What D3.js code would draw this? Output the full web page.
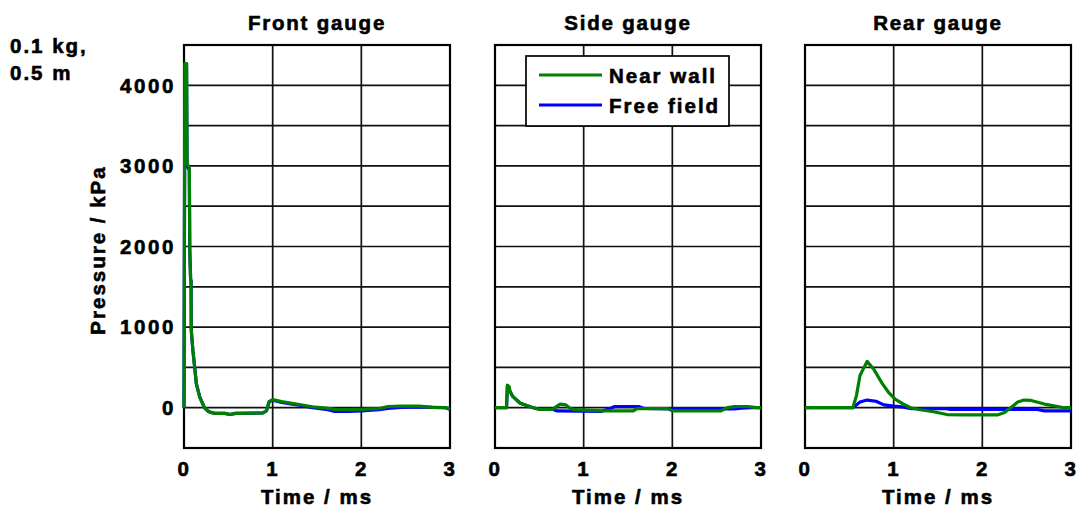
<!DOCTYPE html>
<html><head><meta charset="utf-8">
<script src="https://cdn.jsdelivr.net/npm/d3@7"></script>
<style>
html,body{margin:0;padding:0;background:#fff;}
text{font-family:"Liberation Sans",Arial,sans-serif;font-weight:bold;font-size:20.5px;fill:#000;stroke:#000;stroke-width:0.6px;}
</style></head>
<body><svg id="c" width="1077" height="510"></svg>
<script>
const panelTitles = ["Front gauge","Side gauge","Rear gauge"];
const seriesNames = ["Near wall","Free field"];
const xTicks = [0,1,2,3];
const yTickLabels = [0,1000,2000,3000,4000];
const yGrid = [-500,0,500,1000,1500,2000,2500,3000,3500,4000,4500];

const frontNearT = [0,0.01,0.03,0.035,0.06,0.065,0.075,0.08,0.082,0.1,0.12,0.139,0.176,0.23,0.28,0.345,0.46,0.52,0.58,0.89,0.93,0.96,1.0,1.1,1.22,1.3,1.45,1.6,1.7,1.85,2.0,2.2,2.3,2.45,2.65,2.8,2.95,3.0];
const frontNearP = [0,4270,4270,3030,2980,1950,1580,1580,960,714,507,300,136,0,-50,-70,-70,-85,-70,-65,-40,74,100,75,54,40,12,-5,-20,-25,-20,-10,15,20,20,5,0,-20];
const frontFreeT = [0,0.01,0.028,0.034,0.06,0.065,0.075,0.08,0.082,0.1,0.12,0.139,0.176,0.23,0.28,0.345,0.46,0.52,0.58,0.89,0.93,0.96,1.0,1.1,1.22,1.3,1.45,1.6,1.7,1.85,2.0,2.2,2.3,2.45,2.65,2.8,2.95,3.0];
const frontFreeP = [0,4250,4250,3000,2950,1950,1580,1580,960,714,507,300,136,0,-50,-70,-70,-85,-70,-65,-40,74,92,65,45,30,0,-20,-45,-45,-40,-25,-10,5,10,5,0,-20];

const sideNearT = [0,0.13,0.14,0.16,0.17,0.2,0.25,0.285,0.35,0.43,0.5,0.65,0.7,0.735,0.8,0.85,0.9,1.19,1.56,1.6,1.95,2.0,2.55,2.62,2.7,2.85,2.95,3.0];
const sideNearP = [0,0,280,260,200,140,90,55,30,0,-20,-20,20,45,35,-10,-25,-40,-40,-12,-12,-40,-40,0,15,15,0,0];
const sideFreeT = [0,0.13,0.14,0.17,0.2,0.25,0.285,0.35,0.43,0.5,0.65,0.7,1.2,1.3,1.35,1.62,1.68,2.0,2.7,2.78,2.9,3.0];
const sideFreeP = [0,0,270,200,140,90,55,30,0,-20,-20,-40,-45,-10,15,15,-10,-15,-15,-5,0,0];

const rearNearT = [0,0.54,0.58,0.62,0.7,0.78,0.87,0.95,1.02,1.1,1.19,1.3,1.45,1.6,1.8,2.17,2.25,2.32,2.4,2.47,2.55,2.7,2.85,2.92,3.0];
const rearNearP = [0,0,150,400,575,470,302,180,104,50,0,-25,-50,-85,-90,-90,-60,0,70,95,90,45,15,0,0];
const rearFreeT = [0,0.54,0.62,0.7,0.8,0.89,1.0,1.1,1.2,1.6,1.64,2.62,2.7,3.0];
const rearFreeP = [0,0,70,95,80,35,20,10,-12,-12,-22,-22,-40,-40];

const panelSeries = [
  [[frontFreeT,frontFreeP],[frontNearT,frontNearP]],
  [[sideFreeT,sideFreeP],[sideNearT,sideNearP]],
  [[rearFreeT,rearFreeP],[rearNearT,rearNearP]]
];
const colors = {near:"#008000", free:"#0000ff"};

const svg = d3.select("#c");
const panelLeft = [184, 495, 805];
const pw = 266, plotTop = 45, plotBottom = 448;
const y = d3.scaleLinear().domain([-500,4500]).range([plotBottom, plotTop]);

panelTitles.forEach((title, i) => {
  const x = d3.scaleLinear().domain([0,3]).range([panelLeft[i], panelLeft[i]+pw]);
  const g = svg.append("g");
  g.selectAll(".hg").data(yGrid).enter().append("line")
    .attr("x1", x(0)).attr("x2", x(3)).attr("y1", d=>y(d)).attr("y2", d=>y(d))
    .attr("stroke","#111").attr("stroke-width",1.7);
  g.selectAll(".vg").data(xTicks).enter().append("line")
    .attr("x1", d=>x(d)).attr("x2", d=>x(d)).attr("y1", y(-500)).attr("y2", y(4500))
    .attr("stroke","#111").attr("stroke-width",1.7);
  g.append("rect").attr("x",x(0)).attr("y",y(4500)).attr("width",x(3)-x(0)).attr("height",y(-500)-y(4500))
    .attr("fill","none").attr("stroke","#000").attr("stroke-width",2.2);
  const line = d3.line().x(d=>x(d[0])).y(d=>y(d[1]));
  panelSeries[i].forEach((s, k) => {
    const pts = s[0].map((t,j)=>[t, s[1][j]]);
    g.append("path").datum(pts).attr("d", line).attr("fill","none")
      .attr("stroke", k===0 ? colors.free : colors.near).attr("stroke-width",3.2)
      .attr("stroke-linejoin","round");
  });
  g.selectAll(".xt").data(xTicks).enter().append("text")
    .attr("x", d=>x(d)).attr("y", 476).attr("text-anchor","middle")
    .style("letter-spacing","1.5px").text(d=>d);
  g.append("text").attr("x",(x(0)+x(3))/2).attr("y",504).attr("text-anchor","middle")
    .style("letter-spacing","2px").text("Time / ms");
  g.append("text").attr("x",(x(0)+x(3))/2).attr("y",29.5).attr("text-anchor","middle")
    .style("letter-spacing","1.8px").text(title);
  if (i===0) {
    g.selectAll(".yt").data(yTickLabels).enter().append("text")
      .attr("x", 176).attr("y", d=>y(d)+7.3).attr("text-anchor","end")
      .style("letter-spacing","2.6px").text(d=>d);
  }
});

svg.append("text").attr("transform","translate(105,250) rotate(-90)").attr("text-anchor","middle")
  .style("letter-spacing","2px").text("Pressure / kPa");
svg.append("text").attr("x",10).attr("y",53).style("letter-spacing","2px").text("0.1 kg,");
svg.append("text").attr("x",10).attr("y",80).style("letter-spacing","2px").text("0.5 m");

const lg = svg.append("g");
lg.append("rect").attr("x",526).attr("y",56).attr("width",203).attr("height",70)
  .attr("fill","#fff").attr("stroke","#000").attr("stroke-width",1.7);
[[seriesNames[0], colors.near, 75],[seriesNames[1], colors.free, 105]].forEach(([n,c,yy])=>{
  lg.append("line").attr("x1",539).attr("x2",602).attr("y1",yy).attr("y2",yy).attr("stroke",c).attr("stroke-width",3.2);
  lg.append("text").attr("x",609).attr("y",yy+8).style("letter-spacing","2px").text(n);
});
</script></body></html>
